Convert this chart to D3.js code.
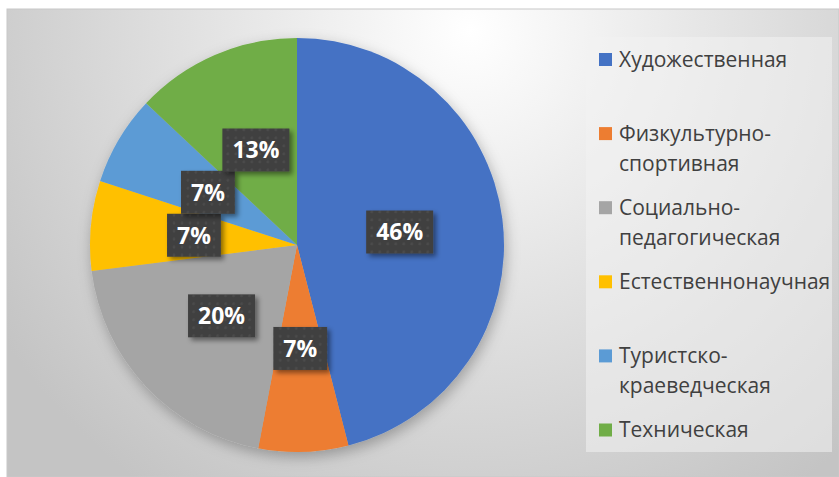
<!DOCTYPE html>
<html>
<head>
<meta charset="utf-8">
<script src="https://cdn.jsdelivr.net/npm/d3@7"></script>
<style>
  body { margin: 0; background: #fff; }
  svg { display: block; }
</style>
</head>
<body>
<script>
// Chart data
const categories = ["Художественная", "Физкультурно-спортивная", "Социально-педагогическая",
                    "Естественнонаучная", "Туристско-краеведческая", "Техническая"];
const legendLines = [["Художественная"], ["Физкультурно-", "спортивная"], ["Социально-", "педагогическая"],
                     ["Естественнонаучная"], ["Туристско-", "краеведческая"], ["Техническая"]];
const shares = [46, 7, 20, 7, 7, 13];
const colors = ["#4472C4", "#ED7D31", "#A5A5A5", "#FFC000", "#5B9BD5", "#70AD47"];

const W = 839, H = 477;
const cx = 297, cy = 245, R = 207;

const svg = d3.select("body").append("svg")
    .attr("width", W)
    .attr("height", H);

const defs = svg.append("defs");

// background gradient
const bg = defs.append("radialGradient")
    .attr("id", "bg")
    .attr("gradientUnits", "userSpaceOnUse")
    .attr("cx", 470).attr("cy", 30).attr("r", 560);
bg.append("stop").attr("offset", 0).attr("stop-color", "#ffffff");
bg.append("stop").attr("offset", 0.45).attr("stop-color", "#e4e4e4");
bg.append("stop").attr("offset", 1).attr("stop-color", "#c4c4c4");

// soft shadow for the pie and the labels
const pieShadow = defs.append("filter").attr("id", "pieShadow")
    .attr("x", "-20%").attr("y", "-20%").attr("width", "140%").attr("height", "140%");
pieShadow.append("feDropShadow")
    .attr("dx", 2).attr("dy", 5).attr("stdDeviation", 7)
    .attr("flood-color", "#000").attr("flood-opacity", 0.28);

const boxShadow = defs.append("filter").attr("id", "boxShadow")
    .attr("x", "-30%").attr("y", "-30%").attr("width", "160%").attr("height", "160%");
boxShadow.append("feDropShadow")
    .attr("dx", 3).attr("dy", 3).attr("stdDeviation", 2.5)
    .attr("flood-color", "#000").attr("flood-opacity", 0.45);

// dotted fill for the label boxes
const dots = defs.append("pattern")
    .attr("id", "dots")
    .attr("patternUnits", "userSpaceOnUse")
    .attr("width", 8).attr("height", 8);
dots.append("rect").attr("width", 8).attr("height", 8).attr("fill", "#404040");
dots.append("circle").attr("cx", 4).attr("cy", 4).attr("r", 1.4).attr("fill", "#4b4b4b");

// chart area
svg.append("rect")
    .attr("x", 7).attr("y", 9)
    .attr("width", W - 7).attr("height", H - 9)
    .attr("fill", "url(#bg)")
    .attr("stroke", "#c8c8c8")
    .attr("stroke-width", 1);

// pie
const pie = d3.pie().sort(null).value(d => d);
const arcs = pie(shares);
const arc = d3.arc().innerRadius(0).outerRadius(R);
const labelArc = d3.arc().innerRadius(0).outerRadius(R);

const g = svg.append("g").attr("transform", `translate(${cx},${cy})`);

g.append("g")
    .attr("filter", "url(#pieShadow)")
    .selectAll("path")
    .data(arcs)
    .enter()
    .append("path")
    .attr("d", arc)
    .attr("fill", (d, i) => colors[i]);

// data labels
const labels = g.selectAll(".lbl")
    .data(arcs)
    .enter()
    .append("g")
    .attr("class", "lbl")
    .attr("transform", d => `translate(${labelArc.centroid(d)})`);

labels.append("rect")
    .attr("fill", "url(#dots)")
    .attr("filter", "url(#boxShadow)");

labels.append("text")
    .attr("text-anchor", "middle")
    .attr("dy", "0.36em")
    .style("font-family", "'Open Sans', sans-serif")
    .style("font-weight", "bold")
    .style("font-size", "23px")
    .attr("fill", "#ffffff")
    .text(d => d.data + "%");

labels.each(function() {
    const t = d3.select(this).select("text").node().getComputedTextLength();
    const bw = t + 20, bh = 43;
    d3.select(this).select("rect")
        .attr("x", -bw / 2).attr("y", -bh / 2)
        .attr("width", bw).attr("height", bh);
});

// legend
svg.append("rect")
    .attr("x", 586).attr("y", 37)
    .attr("width", 246).attr("height", 415)
    .attr("fill", "#f2f2f2")
    .attr("fill-opacity", 0.55);

const ly = d3.scalePoint()
    .domain(categories)
    .range([59.5, 430]);

const legend = svg.append("g")
    .selectAll("g")
    .data(categories)
    .enter()
    .append("g")
    .attr("transform", d => `translate(599,${ly(d)})`);

legend.append("rect")
    .attr("x", 0).attr("y", -6.5)
    .attr("width", 13).attr("height", 13)
    .attr("fill", (d, i) => colors[i]);

legend.append("text")
    .attr("x", 20)
    .style("font-family", "'Open Sans', sans-serif")
    .style("font-size", "21px")
    .attr("fill", "#404040")
    .selectAll("tspan")
    .data((d, i) => legendLines[i])
    .enter()
    .append("tspan")
    .attr("x", 20)
    .attr("y", (d, j) => j * 30)
    .attr("dy", "0.35em")
    .text(d => d);
</script>
</body>
</html>
